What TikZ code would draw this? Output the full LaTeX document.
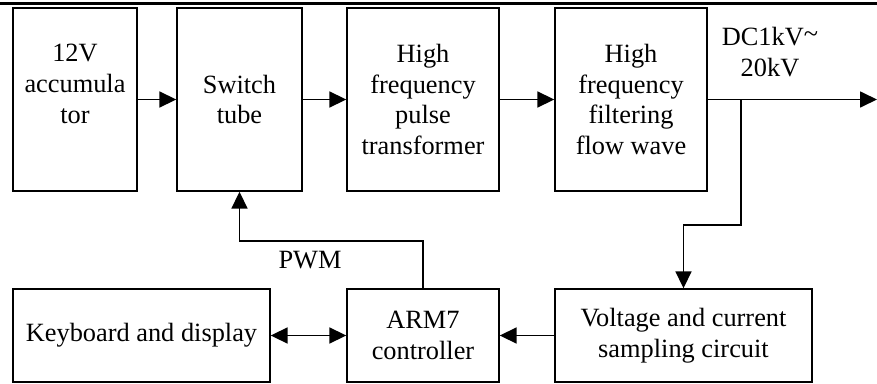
\documentclass[tikz,border=0pt]{standalone}
\usepackage{fontspec}
\setmainfont{Liberation Serif}
\usetikzlibrary{arrows.meta}

\begin{document}
\begin{tikzpicture}[x=0.02cm, y=-0.02cm,
		>={Triangle[length=0.34cm, width=0.32cm]},
		blk/.style={draw, line width=0.8pt, align=center, inner sep=0pt, font=\fontsize{15}{17.6}\selectfont},
		tall/.style={blk, minimum height=3.66cm},
		flat/.style={blk, minimum height=1.86cm},
		lbl/.style={align=center, inner sep=0pt, font=\fontsize{15}{17.6}\selectfont},
		lnk/.style={line width=1pt, ->}]
		\useasboundingbox (0, 0) rectangle (877, 383);
		\draw[line width=1.7pt] (0, 3.5) -- (877, 3.5);
		
		\node[tall, minimum width=2.48cm] (acc) at (75, 99.5) {12V\\accumula\\tor\\\mbox{}};
		\node[tall, minimum width=2.5cm] (sw) at (239.5, 99.5) {Switch\\tube};
		\node[tall, minimum width=3.04cm] (pulse) at (423, 99.5) {High\\frequency\\pulse\\transformer};
		\node[tall, minimum width=3.04cm] (filt) at (631, 99.5) {High\\frequency\\filtering\\flow wave};
		
		\node[flat, minimum width=5.14cm] (key) at (141.5, 335.5) {Keyboard and display};
		\node[flat, minimum width=3.04cm] (arm) at (423, 335.5) {ARM7\\controller};
		\node[flat, minimum width=5.14cm] (samp) at (683.5, 335.5) {Voltage and current\\sampling circuit};
		
		\node[lbl] (dc) at (770, 52) {DC1kV\raisebox{0.12em}{\textasciitilde}\\20kV};
		\node[lbl] (pwm) at (310, 260) {PWM};
		
		\coordinate (tap) at (741, 99.5);
		\coordinate (out) at (877, 99.5);
		
		\draw[lnk] (acc) -- (sw);
		\draw[lnk] (sw) -- (pulse);
		\draw[lnk] (pulse) -- (filt);
		\draw[lnk] (filt) -- (out);
		\draw[lnk] (tap) -- ++(0, 125.5) -| (samp.north);
		\draw[lnk] (samp) -- (arm);
		\draw[lnk, <->] (key) -- (arm);
		\draw[lnk] (arm.north) -- ++(0, -47) -| (sw.south);
	\end{tikzpicture}
\end{document}
